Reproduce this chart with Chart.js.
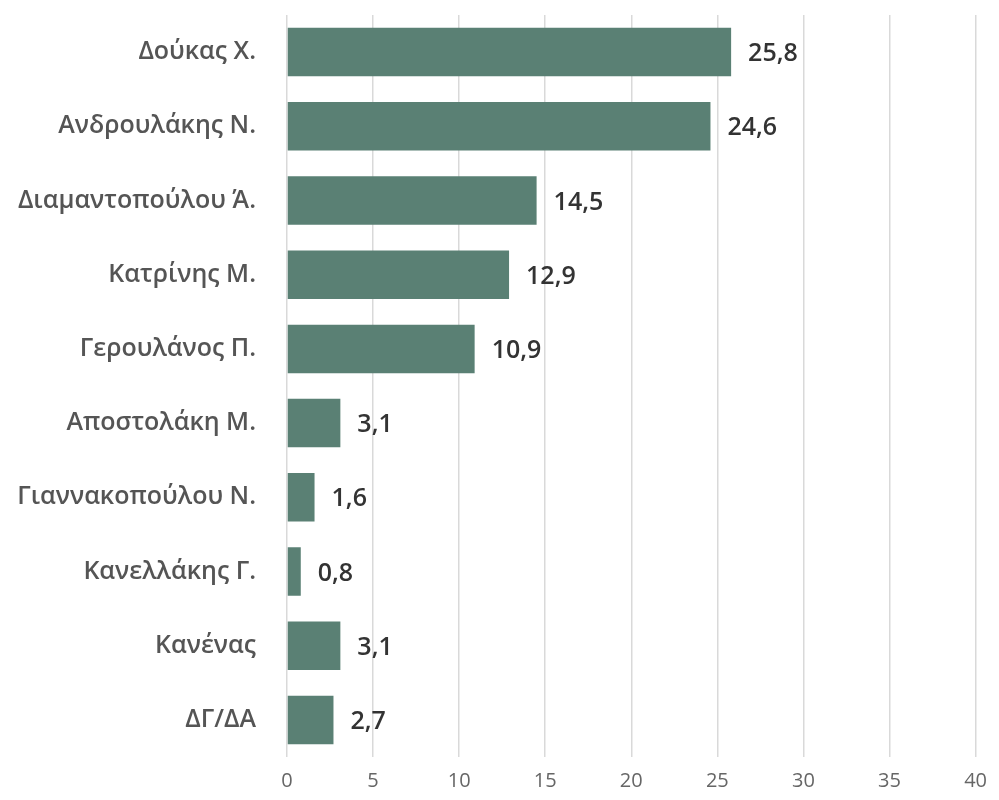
<!DOCTYPE html>
<html><head><meta charset="utf-8">
<script src="https://cdn.jsdelivr.net/npm/chart.js@4/dist/chart.umd.min.js"></script>
<style>html,body{margin:0;padding:0;background:#fff}#wrap{width:999px;height:800px}</style>
</head><body><div id="wrap"><canvas id="c" width="999" height="800"></canvas></div>
<script>
const categories = ["Δούκας Χ.","Ανδρουλάκης Ν.","Διαμαντοπούλου Ά.","Κατρίνης Μ.","Γερουλάνος Π.","Αποστολάκη Μ.","Γιαννακοπούλου Ν.","Κανελλάκης Γ.","Κανένας","ΔΓ/ΔΑ"];
const values = [25.8,24.6,14.5,12.9,10.9,3.1,1.6,0.8,3.1,2.7];
const xTicks = [0,5,10,15,20,25,30,35,40];

const FONT = "'Open Sans', 'Noto Sans', sans-serif";
const valueLabels = {
  id: 'valueLabels',
  afterDatasetsDraw(chart) {
    const ctx = chart.ctx;
    const meta = chart.getDatasetMeta(0);
    ctx.save();
    ctx.font = "600 25px " + FONT;
    ctx.fillStyle = "#333333";
    ctx.textBaseline = "middle";
    ctx.textAlign = "left";
    meta.data.forEach((bar, i) => {
      ctx.fillText(values[i].toFixed(1).replace('.', ','), bar.x + 17, bar.y + 2);
    });
    ctx.restore();
  }
};

new Chart(document.getElementById('c'), {
  type: 'bar',
  data: { labels: categories, datasets: [{ data: values, backgroundColor: '#5a8074', barPercentage: 0.86, categoryPercentage: 0.76 }] },
  options: {
    indexAxis: 'y', responsive: false, animation: false,
    layout: { padding: { top: 15, right: 22, left: 0, bottom: 0 } },
    plugins: { legend: { display: false }, tooltip: { enabled: false } },
    scales: {
      x: {
        min: 0, max: 40,
        afterBuildTicks(s) { s.ticks = xTicks.map(v => ({ value: v })); },
        afterFit(s) { s.height = 43; },
        grid: { color: '#d9d9d9', lineWidth: 1.5, drawTicks: false },
        border: { display: false },
        ticks: { color: '#666666', font: { family: FONT, size: 20 }, padding: 12 }
      },
      y: {
        afterFit(s) { s.width = 287; s.paddingTop = 0; s.paddingBottom = 0; },
        grid: { display: false },
        border: { display: false },
        ticks: { color: '#555555', font: { family: FONT, size: 25, weight: '600' }, padding: 23 }
      }
    }
  },
  plugins: [valueLabels]
});
</script></body></html>
